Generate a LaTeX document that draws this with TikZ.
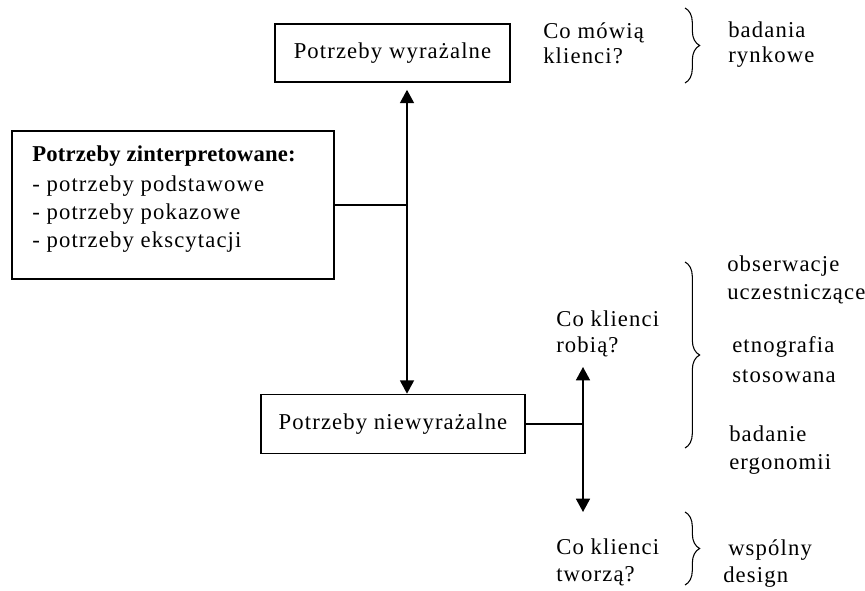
\documentclass[tikz,border=0pt]{standalone}
\usepackage{fontspec}
\setmainfont{Liberation Serif}[LetterSpace=5]
\usetikzlibrary{arrows.meta,decorations.pathreplacing}
\newdimen\pxu \pxu=0.75pt
\newcommand\lead[1]{\fontsize{17}{#1}\selectfont}
\begin{document}
\begin{tikzpicture}[x=0.75pt,y=-0.75pt,
  every node/.style={font=\lead{18.75}},
  box/.style={draw,line width=1.2pt,inner sep=0pt,align=center},
  lbl/.style={anchor=north west,inner sep=0pt,align=left},
  conn/.style={line width=1.2pt},
  tip/.tip={Triangle[width=10.5pt,length=10pt]},
  curly/.style={line width=0.8pt,decorate,
    decoration={brace,amplitude=11pt}}]
\useasboundingbox (0,0) rectangle (865,591);

% the three need boxes
\node[box,minimum width=235\pxu,minimum height=58\pxu] (tb) at (392.5,53) {Potrzeby wyrażalne};
\node[box,minimum width=264\pxu,minimum height=59\pxu] (bb) at (393,424) {Potrzeby niewyrażalne};
\node[box,minimum width=322\pxu,minimum height=148\pxu] (lb) at (173,205) {};
\node[lbl,font=\lead{21}] (lbt) at (32,146)
  {\textbf{\addfontfeatures{LetterSpace=1}Potrzeby zinterpretowane:}\\[1.5pt]
   - potrzeby podstawowe\\
   - potrzeby pokazowe\\
   - potrzeby ekscytacji};

% junctions and free arrow ends
\coordinate (jx) at (407,205);
\coordinate (j2) at (583,424);
\coordinate (up) at (583,367);
\coordinate (down) at (583,512);

% connectors
\draw[conn] (lb.east) -- (jx);
\draw[conn,tip-tip,shorten <=7\pxu] (tb.south -| jx) -- (bb.north -| jx);
\draw[conn] (bb.east) -- (j2);
\draw[conn,-tip] (j2) -- (up);
\draw[conn,-tip] (j2) -- (down);

% questions
\node[lbl] (say) at (543,22) {Co mówią\\klienci?};
\node[lbl,font=\lead{19.5}] (do) at (556,311) {Co klienci\\robią?};
\node[lbl,font=\lead{20.25}] (make) at (556,539) {Co klienci\\tworzą?};

% braces
\draw[curly] (685,8) -- (685,83);
\draw[curly] (685,262) -- (685,448);
\draw[curly] (685,512) -- (685,585);

% research methods
\node[lbl] (mkt) at (728,22) {badania\\rynkowe};
\node[lbl,font=\lead{21}] (obs) at (727,256) {obserwacje\\uczestniczące};
\node[lbl,font=\lead{22.5}] (eth) at (732,336) {etnografia\\stosowana};
\node[lbl,font=\lead{21}] (erg) at (729,426) {badanie\\ergonomii};
\node[lbl,font=\lead{20.25}] (cod) at (728,539) {wspólny\\\hspace*{-5\pxu}design};
\end{tikzpicture}
\end{document}
